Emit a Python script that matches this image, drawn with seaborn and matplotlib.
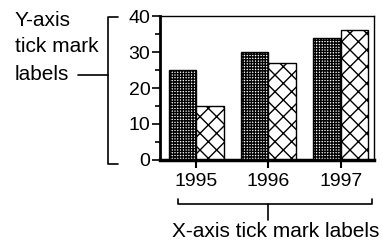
import seaborn as sns
import pandas as pd
import matplotlib.pyplot as plt
from matplotlib.lines import Line2D

# chart data
years = ['1995', '1996', '1997']
series_dotted = [25, 30, 34]
series_cross = [15, 27, 36]
y_ticks = [0, 10, 20, 30, 40]

df = pd.DataFrame({
    'Year': years * 2,
    'Value': series_dotted + series_cross,
    'Series': ['dotted'] * 3 + ['cross'] * 3,
})

sns.set_theme(style='white')
plt.rcParams['font.family'] = ['Liberation Sans', 'DejaVu Sans']
plt.rcParams['hatch.linewidth'] = 1.0
plt.rcParams['hatch.color'] = 'black'

W, H = 383, 249
fig = plt.figure(figsize=(W / 100, H / 100), dpi=100)
ax = fig.add_axes([160 / W, 1 - 160 / H, (374 - 160) / W, (160 - 16) / H])

sns.barplot(data=df, x='Year', y='Value', hue='Series', palette=['white', 'white'],
            edgecolor='black', linewidth=1.0, width=0.76, legend=False, ax=ax)

for cont, hatch in zip(ax.containers, ['++++++', 'xx']):
    for bar in cont:
        bar.set_hatch(hatch)

ax.set_xlim(-0.5, 2.46)
ax.set_ylim(0, 40)
ax.set_yticks(y_ticks)
ax.set_yticks([5, 15, 25, 35], minor=True)
ax.set_xlabel('')
ax.set_ylabel('')

for side, lw in [('left', 2.0), ('bottom', 2.5), ('top', 1.0), ('right', 1.0)]:
    ax.spines[side].set_visible(True)
    ax.spines[side].set_color('black')
    ax.spines[side].set_linewidth(lw)

ax.tick_params(axis='y', which='major', direction='out', length=6, width=1.2,
               color='black', labelsize=14, pad=1, left=True)
ax.tick_params(axis='y', which='minor', direction='out', length=3.5, width=1.2,
               color='black', left=True)
ax.tick_params(axis='x', which='major', direction='out', length=6, width=1.5,
               color='black', labelsize=14, pad=3, bottom=True)
for lab in ax.get_xticklabels() + ax.get_yticklabels():
    lab.set_color('black')


# bracket annotations (figure pixel coordinates, origin at top-left)
def px_line(xs, ys, lw=1.2):
    fig.add_artist(Line2D([x / W for x in xs], [1 - y / H for y in ys],
                          transform=fig.transFigure, color='black', lw=lw))


# y-axis bracket
px_line([118, 108, 108, 118], [17, 17, 164, 164])
px_line([78, 108], [75, 75])
for txt, yc in [('Y-axis', 20), ('tick mark', 47), ('labels', 75)]:
    fig.text(15 / W, 1 - yc / H, txt, ha='left', va='center', fontsize=15, color='black')

# x-axis bracket
px_line([178, 178, 372, 372], [199, 204, 204, 199])
px_line([268, 268], [204, 220])
fig.text(276 / W, 1 - 231 / H, 'X-axis tick mark labels', ha='center', va='center',
         fontsize=15, color='black')

fig.savefig('out.png', dpi=100)
